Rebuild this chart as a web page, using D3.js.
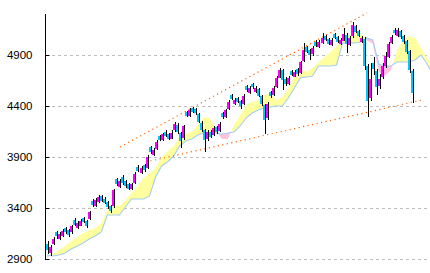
<!DOCTYPE html>
<html>
<head>
<meta charset="utf-8">
<script src="https://cdn.jsdelivr.net/npm/d3@7"></script>
<style>
  body { margin: 0; background: #fff; }
  svg { display: block; }
  .tick text { font-family: "Liberation Sans", Arial, sans-serif; font-size: 11.5px; fill: #000; }
</style>
</head>
<body>
<div id="chart"></div>
<script>
const yTicks = [2900, 3400, 3900, 4400, 4900];

// candles, one per bar
const opens = [3050,2960,3050,3160,3100,3130,3200,3180,3160,3285,3205,3230,3300,3270,3290,3470,3420,3460,3515,3490,3455,3420,3420,3680,3610,3700,3660,3640,3585,3650,3805,3745,3820,3790,3995,3920,3980,4110,4065,4150,4125,4085,4160,4215,4140,4080,4345,4300,4385,4370,4320,4235,4160,4080,4150,4120,4190,4160,4330,4290,4370,4510,4420,4480,4450,4420,4595,4530,4615,4540,4570,4500,4410,4280,4540,4510,4590,4680,4750,4665,4620,4745,4690,4760,4720,4840,4975,4945,4910,5030,4980,5020,5090,5055,5000,5105,5075,5010,5045,5100,5000,5080,5185,5135,5030,5060,4790,4470,4820,4740,4590,4680,4790,4880,5020,5150,5090,5140,5090,5040,4940,4740];
const highs = [3075,3040,3120,3175,3165,3195,3215,3190,3235,3300,3270,3295,3315,3280,3375,3485,3500,3530,3525,3505,3465,3430,3590,3690,3685,3720,3670,3650,3650,3750,3820,3815,3830,3915,4005,3990,4065,4120,4140,4165,4135,4160,4240,4230,4150,4215,4355,4380,4395,4380,4335,4250,4170,4165,4165,4200,4205,4240,4340,4375,4455,4520,4480,4490,4460,4515,4605,4595,4625,4595,4580,4510,4420,4435,4550,4595,4690,4775,4765,4680,4690,4755,4755,4770,4845,5020,4990,4955,4985,5045,5050,5115,5100,5065,5065,5115,5085,5065,5165,5115,5085,5225,5195,5145,5090,5075,4810,4820,4880,4760,4710,4820,4930,5025,5100,5160,5165,5150,5100,5050,4950,4760];
const lows = [2950,2930,3040,3100,3090,3120,3145,3115,3150,3225,3195,3220,3250,3205,3280,3410,3410,3450,3455,3435,3395,3350,3400,3620,3600,3630,3600,3575,3575,3640,3750,3735,3755,3780,3930,3910,3970,4055,4055,4095,4065,4075,4150,4130,3990,4070,4290,4290,4335,4315,4230,4150,3950,4060,4085,4105,4130,4150,4270,4280,4360,4460,4410,4425,4370,4410,4540,4520,4570,4530,4490,4400,4130,4265,4480,4500,4580,4670,4560,4600,4610,4690,4680,4695,4710,4830,4915,4850,4895,4975,4970,5010,5035,4995,4990,5055,5015,5000,5035,4920,4990,5070,5115,5075,5020,4750,4290,4450,4700,4510,4570,4660,4770,4870,5010,5100,5080,5060,5010,4910,4720,4430];
const closes = [2990,3020,3100,3120,3150,3175,3160,3135,3220,3240,3255,3275,3265,3225,3360,3430,3480,3505,3470,3450,3410,3370,3575,3635,3665,3645,3615,3595,3635,3735,3765,3795,3775,3900,3950,3970,4050,4070,4125,4110,4080,4140,4220,4145,4060,4200,4310,4360,4350,4330,4245,4165,4065,4145,4105,4185,4145,4225,4290,4360,4440,4475,4460,4440,4400,4500,4560,4575,4590,4575,4505,4420,4260,4420,4500,4575,4675,4755,4655,4615,4675,4705,4735,4715,4830,4950,4930,4900,4970,4990,5030,5070,5050,5010,5050,5070,5030,5050,5110,5010,5070,5190,5130,5090,5070,4800,4450,4660,4760,4580,4660,4790,4890,5010,5080,5120,5145,5080,5030,4930,4750,4520];

// cloud, sampled every 2 bars (runs past the last bar)
const cloudIdx = d3.range(0, 129, 2);
const spanA = [2910,2949,2988,3027,3076,3116,3155,3184,3204,3253,3380,3439,3420,3478,3547,3616,3694,3743,3792,3900,3959,4008,4106,4135,4145,4214,4292,4282,4155,4076,4076,4214,4312,4410,4439,4459,4508,4518,4459,4488,4576,4694,4773,4733,4773,4831,4880,4929,4988,5047,5086,5116,5116,5047,5008,4733,4694,4753,4949,5047,5086,5067,4969,4871,4792];
const spanB = [2939,2929,2939,2959,2998,3027,3057,3096,3125,3165,3331,3331,3331,3410,3488,3488,3488,3518,3704,3812,3851,3910,4008,4057,4076,4116,4135,4135,4135,4125,4135,4145,4204,4282,4331,4361,4380,4390,4400,4400,4478,4576,4675,4684,4694,4792,4792,4792,4802,5018,5018,5018,5027,5067,5047,4812,4792,4792,4831,4831,4831,4851,4900,4812,4704];

// trend lines: [start bar, start value, end bar, end value]
const trendUpper = [24.2, 3998, 106.1, 5312];
const trendLower = [32.8, 3851, 124.3, 4459];

const W = 430, H = 273;
const left = 46, right = 432;

const svg = d3.select("#chart").append("svg")
    .attr("width", W).attr("height", H);

const x = d3.scaleLinear().domain([0, closes.length - 1]).range([47, 412]);
const y = d3.scaleLinear().domain([2900, 4900]).range([259, 55]);

svg.append("defs").append("clipPath").attr("id", "plot")
    .append("rect").attr("x", left).attr("y", 0).attr("width", right - left).attr("height", H);

// grid
svg.append("g").selectAll("line").data(yTicks).enter().append("line")
    .attr("x1", left).attr("x2", right)
    .attr("y1", d => Math.round(y(d)) + 0.5).attr("y2", d => Math.round(y(d)) + 0.5)
    .attr("stroke", "#bdbdbd").attr("stroke-dasharray", "3,3");

const g = svg.append("g").attr("clip-path", "url(#plot)");

// ichimoku cloud
const cloud = cloudIdx.map((d, i) => ({ i: d, a: spanA[i], b: spanB[i] }));
const defs = svg.select("defs");
defs.append("clipPath").attr("id", "aboveB").append("path")
    .attr("d", d3.area().x(d => x(d.i)).y0(0).y1(d => y(d.b))(cloud));
defs.append("clipPath").attr("id", "belowB").append("path")
    .attr("d", d3.area().x(d => x(d.i)).y0(H).y1(d => y(d.b))(cloud));
const between = d3.area().x(d => x(d.i)).y0(d => y(d.b)).y1(d => y(d.a));
g.append("path").datum(cloud).attr("d", between).attr("fill", "#ffffa0").attr("clip-path", "url(#aboveB)");
g.append("path").datum(cloud).attr("d", between).attr("fill", "#ffc4dc").attr("clip-path", "url(#belowB)");
g.append("path").datum(cloud)
    .attr("d", d3.line().x(d => x(d.i)).y(d => y(d.b)))
    .attr("fill", "none").attr("stroke", "#a4cdf6").attr("stroke-width", 1.1);

// trend lines
[trendUpper, trendLower].forEach(t => {
    g.append("line")
        .attr("x1", x(t[0])).attr("y1", y(t[1]))
        .attr("x2", x(t[2])).attr("y2", y(t[3]))
        .attr("stroke", "#ff6600").attr("stroke-width", 1.2)
        .attr("stroke-dasharray", "1.2,3.4");
});

// candles
const bars = d3.range(closes.length);
g.append("g").selectAll("rect").data(bars).enter().append("rect")
    .attr("x", i => Math.round(x(i)) + 1).attr("width", 1)
    .attr("y", i => Math.round(y(highs[i])))
    .attr("height", i => Math.max(1, Math.round(y(lows[i])) - Math.round(y(highs[i]))))
    .attr("fill", "#000").attr("shape-rendering", "crispEdges");
g.append("g").selectAll("rect").data(bars).enter().append("rect")
    .attr("x", i => Math.round(x(i)) - 1).attr("width", 2)
    .attr("y", i => Math.round(y(Math.max(opens[i], closes[i]))))
    .attr("height", i => Math.max(1, Math.round(Math.abs(y(opens[i]) - y(closes[i])))))
    .attr("fill", i => closes[i] >= opens[i] ? "#ff00ff" : "#00c8ff")
    .attr("shape-rendering", "crispEdges");

// y axis
const axis = svg.append("g").attr("transform", `translate(${left - 0.5},0)`)
    .call(d3.axisLeft(y).tickValues(yTicks).tickSize(-4).tickPadding(13).tickFormat(d3.format("d")));
axis.select(".domain").remove();
axis.selectAll(".tick line").attr("stroke", "#000");
axis.append("line").attr("y1", 14).attr("y2", Math.round(y(2900)) + 1)
    .attr("stroke", "#000").attr("stroke-width", 1);
</script>
</body>
</html>
